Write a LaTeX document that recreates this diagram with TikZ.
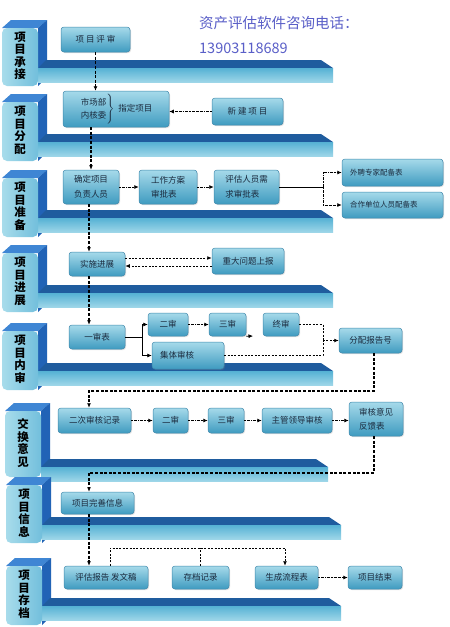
\documentclass[tikz,border=0pt]{standalone}
\usepackage{fontspec}
\setmainfont{Noto Sans CJK SC}
\usetikzlibrary{arrows.meta,shadows}
\definecolor{boxtop}{HTML}{A6DAEA}
\definecolor{boxbot}{HTML}{3F9BC0}
\definecolor{boxline}{HTML}{3F88AC}
\definecolor{shelftop}{HTML}{1F5C9E}
\definecolor{shelffront}{HTML}{55B1D4}
\definecolor{shelflight}{HTML}{9DD6E8}
\definecolor{tabtop}{HTML}{3F86D4}
\definecolor{tabside}{HTML}{2163B6}
\definecolor{tabface}{HTML}{72BFDC}
\definecolor{tablight}{HTML}{A8DCEB}
\definecolor{telcol}{HTML}{5A5FC8}
\definecolor{txt}{HTML}{1B2B3E}
\tikzset{
  box/.style={draw=boxline, line width=0.5pt, rounded corners=3pt,
    top color=boxtop, bottom color=boxbot, text=txt, inner sep=1pt,
    font=\fontsize{8.5}{14.5}\selectfont,
    drop shadow={opacity=0.25, shadow xshift=1pt, shadow yshift=-1pt}},
  smallbox/.style={box, font=\fontsize{7.5}{9}\selectfont, align=left, inner xsep=8pt},
  tablabel/.style={align=center, inner sep=0pt, font=\bfseries\fontsize{11.5}{12.5}\selectfont},
  trunk/.style={line width=1.1pt, dash pattern=on 3pt off 1.6pt},
  link/.style={->, line width=0.8pt, dash pattern=on 2pt off 0.8pt on 0.6pt off 0.8pt},
  dline/.style={line width=0.9pt, dash pattern=on 2pt off 1.4pt},
  branch/.style={line width=0.7pt},
}
\begin{document}
\begin{tikzpicture}[x=1pt, y=-1pt, >={Latex[length=4.5pt,width=4pt]}]
        \path[use as bounding box, fill=white] (0,0) rectangle (450,627);

        % Stage tabs and shelves
        \foreach \t/\h/\s/\r/\xo/\lab [count=\i] in {
            20/66/40/333/0/{项\\目\\承\\接},
            94/67/40/333/0/{项\\目\\分\\配},
            170/67/40/333/0/{项\\目\\准\\备},
            245/67/40/333/0/{项\\目\\进\\展},
            323/67/40/333/0/{项\\目\\内\\审},
            403/74/56/325/3/{交\\换\\意\\见},
            477/66/40/337/4/{项\\目\\信\\息},
            558/67/40/337/4/{项\\目\\存\\档}}
        {
            \begin{scope}[xshift=\xo pt]
                \fill[tabtop] (2,\t+8) -- (11,\t) -- (47,\t) -- (38,\t+8) -- cycle;
                \fill[tabside] (38,\t+8) -- (47,\t) -- (47,\t+\h-9) -- (38,\t+\h) -- cycle;
                \fill[shelftop] (38,\t+\s+8) -- (46,\t+\s) -- (\r-12,\t+\s) -- (\r,\t+\s+8) -- cycle;
                \shade[top color=shelffront, bottom color=shelflight] (38,\t+\s+8) rectangle (\r,\t+\s+22);
                \shade[left color=tablight, right color=tabface, rounded corners=5pt] (2,\t+8) rectangle (38,\t+\h);
                \node[tablabel] (stage\i) at (20,\t+3+\h/2) {\lab};
            \end{scope}
        }

        % Phone
        \node[anchor=west, inner sep=0pt, text=telcol, font=\fontsize{14.5}{15}\selectfont] (tel) at (199,23) {资产评估软件咨询电话：};
        \node[anchor=west, inner sep=0pt, text=telcol, font=\fontsize{14.5}{15}\selectfont] (phone) at (199,48) {13903118689};

        % Boxes
        \node[box, minimum width=69pt, minimum height=25pt] (pingshen) at (95.5,39.5) {项 目 评 审};
        \node[box, minimum width=106pt, minimum height=36pt] (zhiding) at (116,109) {$\left.\begin{tabular}{@{}l@{}}市场部\\[-1pt]内核委\end{tabular}\right\}$\ \ 指定项目};
        \node[box, minimum width=71pt, minimum height=27pt] (xinjian) at (247.5,111.5) {新 建 项 目};

        \node[box, align=left, minimum width=56pt, minimum height=34pt] (queding) at (91,187) {确定项目\\负责人员};
        \node[box, align=left, minimum width=58pt, minimum height=34pt] (gongzuo) at (168,187) {工作方案\\审批表};
        \node[box, align=left, minimum width=65pt, minimum height=34pt] (pinggu) at (246.5,187) {评估人员需\\求审批表};
        \node[smallbox, text width=85pt, minimum height=27pt] (waipin) at (392.5,172.5) {外聘专家配备表};
        \node[smallbox, text width=85pt, minimum height=26pt] (hezuo) at (392.5,205) {合作单位人员配备表};

        \node[box, minimum width=56pt, minimum height=24pt] (shishi) at (97,264) {实施进展};
        \node[box, minimum width=72pt, minimum height=26pt] (zhongda) at (248,261) {重大问题上报};

        \node[box, minimum width=56pt, minimum height=24pt] (yishen) at (97,337) {一审表};
        \node[box, minimum width=40pt, minimum height=23pt] (ershen) at (168,324.5) {二审};
        \node[box, minimum width=37pt, minimum height=23pt] (sanshen) at (227.5,324.5) {三审};
        \node[box, minimum width=36pt, minimum height=23pt] (zhongshen) at (281,324.5) {终审};
        \node[box, align=left, text width=56pt, inner xsep=8pt, minimum height=27pt] (jiti) at (188,355.5) {集体审核};
        \node[box, minimum width=63pt, minimum height=25pt] (fenpei) at (370.5,340.5) {分配报告号};

        \node[box, minimum width=73pt, minimum height=25pt] (erci) at (94.5,420.5) {二次审核记录};
        \node[box, minimum width=35pt, minimum height=25pt] (ershenb) at (170.5,420.5) {二审};
        \node[box, minimum width=36pt, minimum height=25pt] (sanshenb) at (226,420.5) {三审};
        \node[box, minimum width=70pt, minimum height=25pt] (zhuguan) at (297,420.5) {主管领导审核};
        \node[box, align=left, minimum width=54pt, minimum height=34pt] (fankui) at (376,419) {审核意见\\反馈表};

        \node[box, minimum width=73pt, minimum height=22pt] (wanshan) at (97.5,503) {项目完善信息};

        \node[box, minimum width=84pt, minimum height=23pt] (fawen) at (106,577.5) {评估报告 发文稿};
        \node[box, minimum width=57pt, minimum height=23pt] (cundang) at (200.5,577.5) {存档记录};
        \node[box, minimum width=63pt, minimum height=23pt] (liucheng) at (286.5,577.5) {生成流程表};
        \node[box, minimum width=54pt, minimum height=23pt] (jieshu) at (375,577.5) {项目结束};

        % Turning points
        \coordinate (tx) at (89,0);
        \coordinate (fork1) at (323,187);
        \coordinate (fork2) at (142,337);
        \coordinate (s3end) at (253,336);
        \coordinate (join1) at (323,340.5);
        \coordinate (bend1) at (374,391);
        \coordinate (bend2) at (374,473);
        \coordinate (lpa) at (110,548);
        \coordinate (lpb) at (285,548);

        % Arrows
        \draw[trunk, ->] (pingshen.south) -- (pingshen.south |- zhiding.north);
        \draw[link] (xinjian.west) -- (xinjian.west -| zhiding.east);
        \draw[trunk, ->] (zhiding.south -| queding.north) -- (queding.north);

        \draw[link] (queding.east) -- (gongzuo.west);
        \draw[link] (gongzuo.east) -- (pinggu.west);
        \draw[branch] (pinggu.east) -- (fork1);
        \draw[link] (fork1) |- (waipin.west);
        \draw[link] (fork1) |- (hezuo.west);
        \draw[trunk, ->] (queding.south -| tx) -- (shishi.north -| tx);

        \draw[dline, ->] ([yshift=6pt]shishi.east) -- ([yshift=6pt]shishi.east -| zhongda.west);
        \draw[dline, ->] ([yshift=-5pt]zhongda.west) -- ([yshift=-5pt]zhongda.west -| shishi.east);
        \draw[trunk, ->] (shishi.south -| tx) -- (yishen.north -| tx);

        \draw[branch] (yishen.east) -- (fork2);
        \draw[branch, ->] (fork2) |- (ershen.west);
        \draw[branch, ->] (fork2) |- (jiti.west);
        \draw[link] (ershen.east) -- (sanshen.west);
        \draw[branch, ->] (sanshen.south east) -- (s3end);
        \draw[dline] (zhongshen.east) -| (join1);
        \draw[dline] (jiti.east) -| (join1);
        \draw[dline, ->] (join1) -- (fenpei.west);
        \draw[trunk, ->] (fenpei.south -| bend1) -- (bend1) -| (tx |- erci.north);

        \draw[link] (erci.east) -- (ershenb.west);
        \draw[link] (ershenb.east) -- (sanshenb.west);
        \draw[link] (sanshenb.east) -- (zhuguan.west);
        \draw[link] (zhuguan.east) -- (zhuguan.east -| fankui.west);
        \draw[trunk, ->] (fankui.south -| bend2) -- (bend2) -| (tx |- wanshan.north);

        \draw[trunk, ->] (wanshan.south -| tx) -- (fawen.north -| tx);
        \draw[dline, ->] (fawen.north -| lpa) -- (lpa) -- (lpb) -- (liucheng.north -| lpb);
        \draw[dline] (cundang.north) -- (cundang.north |- lpa);
        \draw[link] (liucheng.east) -- (jieshu.west);
    \end{tikzpicture}
\end{document}
